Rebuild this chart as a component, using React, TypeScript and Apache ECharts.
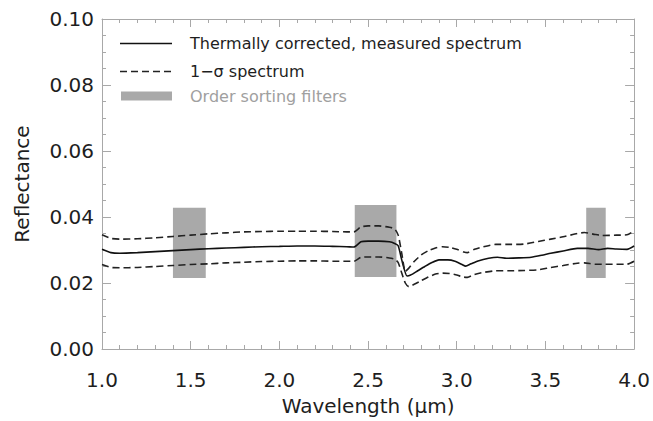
import React, { useEffect, useRef } from "react";
import * as echarts from "echarts";

// Measured spectrum
const measWave = [1.0, 1.05, 1.1, 1.2, 1.3, 1.4, 1.5, 1.6, 1.7, 1.8, 1.9, 2.0, 2.1, 2.2, 2.3, 2.38, 2.42, 2.46, 2.5, 2.56, 2.62, 2.65, 2.67, 2.69, 2.72, 2.74, 2.78, 2.82, 2.86, 2.9, 2.95, 2.99, 3.03, 3.05, 3.08, 3.12, 3.18, 3.23, 3.28, 3.35, 3.42, 3.48, 3.53, 3.6, 3.68, 3.74, 3.8, 3.85, 3.9, 3.96, 4.0];
const measRefl = [0.0302, 0.0292, 0.029, 0.0292, 0.0295, 0.0298, 0.0301, 0.0304, 0.0306, 0.0308, 0.031, 0.0311, 0.0312, 0.0312, 0.0311, 0.031, 0.0309, 0.0325, 0.0327, 0.0327, 0.0325, 0.032, 0.0313, 0.027, 0.0221, 0.0224, 0.0237, 0.025, 0.0262, 0.027, 0.027, 0.0266, 0.0256, 0.0251, 0.0258, 0.0267, 0.0275, 0.0278, 0.0275, 0.0276, 0.0278, 0.0284, 0.029, 0.0297, 0.0305, 0.0305, 0.0301, 0.0305, 0.0303, 0.0302, 0.0312];

// 1-sigma envelope
const sigmaWave = [1.0, 1.05, 1.1, 1.2, 1.3, 1.4, 1.5, 1.6, 1.7, 1.8, 1.9, 2.0, 2.1, 2.2, 2.3, 2.38, 2.42, 2.46, 2.5, 2.56, 2.62, 2.65, 2.67, 2.69, 2.71, 2.73, 2.76, 2.8, 2.84, 2.88, 2.92, 2.96, 3.0, 3.04, 3.06, 3.1, 3.15, 3.22, 3.3, 3.38, 3.46, 3.53, 3.6, 3.68, 3.72, 3.78, 3.82, 3.9, 3.96, 4.0];
const upperRefl = [0.0346, 0.0335, 0.0333, 0.0334, 0.0337, 0.0341, 0.0345, 0.0349, 0.0352, 0.0355, 0.0356, 0.0357, 0.0357, 0.0357, 0.0356, 0.0355, 0.0355, 0.037, 0.0373, 0.0373, 0.0369, 0.0364, 0.0345, 0.029, 0.0235, 0.0245, 0.0265, 0.0285, 0.0298, 0.0306, 0.031, 0.0308, 0.0302, 0.0294, 0.0292, 0.0302, 0.031, 0.0317, 0.0317, 0.0318, 0.0326, 0.0333, 0.034, 0.035, 0.0353, 0.0347, 0.0344, 0.0345, 0.0346, 0.0358];
const lowerRefl = [0.0256, 0.0247, 0.0246, 0.0247, 0.025, 0.0253, 0.0256, 0.0258, 0.0261, 0.0263, 0.0265, 0.0266, 0.0267, 0.0267, 0.0266, 0.0266, 0.0266, 0.0278, 0.0279, 0.0279, 0.0276, 0.0272, 0.0262, 0.023, 0.02, 0.0189, 0.0196, 0.0207, 0.0218, 0.0227, 0.023, 0.0229, 0.0224, 0.0218, 0.0217, 0.0226, 0.0232, 0.0237, 0.0237, 0.0238, 0.024, 0.0247, 0.0253, 0.026, 0.0261, 0.0257, 0.0257, 0.0257, 0.0257, 0.0266];

// Order sorting filters: [xStart, xEnd, yBottom, yTop]
const filterXStart = [1.4, 2.425, 3.73];
const filterXEnd = [1.585, 2.66, 3.84];
const filterYBottom = [0.0215, 0.0218, 0.0215];
const filterYTop = [0.0428, 0.0436, 0.0428];

const xTicks = { min: 1.0, max: 4.0, interval: 0.5 };
const yTicks = { min: 0.0, max: 0.1, interval: 0.02 };

const legendLabels = ["Thermally corrected, measured spectrum", "1\u2212\u03c3 spectrum", "Order sorting filters"];

const AXIS_GRAY = "#a8a8a8";
const FILTER_GRAY = "#a9a9a9";
const FONT = "DejaVu Sans";
const TEXT = "#1e1e1e";

export default function App() {
  const ref = useRef<HTMLDivElement>(null);
  useEffect(() => {
    if (!ref.current) return;
    const chart = echarts.init(ref.current, null, { renderer: "svg" });
    const pair = (xs: number[], ys: number[]) => xs.map((x, i) => [x, ys[i]]);
    const filterData = filterXStart.map((x, i) => [x, filterXEnd[i], filterYBottom[i], filterYTop[i]]);

    const xBase = {
      type: "value",
      min: xTicks.min,
      max: xTicks.max,
      interval: xTicks.interval,
      axisLine: { show: true, onZero: false, lineStyle: { color: AXIS_GRAY, width: 1 } },
      axisTick: { show: true, inside: true, length: 8, lineStyle: { color: AXIS_GRAY } },
      minorTick: { show: true, splitNumber: 5, length: 4, lineStyle: { color: AXIS_GRAY } },
      splitLine: { show: false },
    };
    const yBase = {
      type: "value",
      min: yTicks.min,
      max: yTicks.max,
      interval: yTicks.interval,
      axisLine: { show: true, onZero: false, lineStyle: { color: AXIS_GRAY, width: 1 } },
      axisTick: { show: true, inside: true, length: 9, lineStyle: { color: AXIS_GRAY } },
      minorTick: { show: true, splitNumber: 4, length: 4, lineStyle: { color: AXIS_GRAY } },
      splitLine: { show: false },
    };

    const lx0 = 120, lx1 = 172, ltx = 190;
    const ly = [43.5, 71.5, 96];

    chart.setOption({
      animation: false,
      backgroundColor: "#ffffff",
      grid: { left: 102, right: 18, top: 19, bottom: 67 },
      xAxis: [
        {
          ...xBase,
          position: "bottom",
          name: "Wavelength (\u03bcm)",
          nameLocation: "middle",
          nameGap: 47,
          nameTextStyle: { fontFamily: FONT, fontSize: 20, color: TEXT },
          axisLabel: { show: true, fontFamily: FONT, fontSize: 20, color: TEXT, margin: 21, formatter: (v: number) => v.toFixed(1) },
        },
        { ...xBase, position: "top", axisLabel: { show: false } },
      ],
      yAxis: [
        {
          ...yBase,
          position: "left",
          name: "Reflectance",
          nameLocation: "middle",
          nameGap: 70,
          nameTextStyle: { fontFamily: FONT, fontSize: 20, color: TEXT },
          axisLabel: { show: true, fontFamily: FONT, fontSize: 20, color: TEXT, margin: 8, formatter: (v: number) => v.toFixed(2) },
        },
        { ...yBase, position: "right", axisLabel: { show: false } },
      ],
      series: [
        {
          type: "custom",
          z: 1,
          data: filterData,
          renderItem: (params: any, api: any) => {
            const p0 = api.coord([api.value(0), api.value(3)]);
            const p1 = api.coord([api.value(1), api.value(2)]);
            return {
              type: "rect",
              shape: { x: p0[0], y: p0[1], width: p1[0] - p0[0], height: p1[1] - p0[1] },
              style: { fill: FILTER_GRAY },
            };
          },
        },
        {
          type: "line",
          z: 3,
          data: pair(measWave, measRefl),
          showSymbol: false,
          smooth: 0.2,
          lineStyle: { color: "#111", width: 1.6 },
        },
        {
          type: "line",
          z: 3,
          data: pair(sigmaWave, upperRefl),
          showSymbol: false,
          smooth: 0.2,
          lineStyle: { color: "#222", width: 1.6, type: [7, 4] },
        },
        {
          type: "line",
          z: 3,
          data: pair(sigmaWave, lowerRefl),
          showSymbol: false,
          smooth: 0.2,
          lineStyle: { color: "#222", width: 1.6, type: [7, 4] },
        },
      ],
      graphic: [
        { type: "line", shape: { x1: lx0, y1: ly[0], x2: lx1, y2: ly[0] }, style: { stroke: "#111", lineWidth: 1.6 } },
        { type: "line", shape: { x1: lx0, y1: ly[1], x2: lx1, y2: ly[1] }, style: { stroke: "#222", lineWidth: 1.6, lineDash: [7, 4] } },
        { type: "rect", shape: { x: lx0 + 1, y: ly[2] - 4.5, width: lx1 - lx0 - 1, height: 9 }, style: { fill: FILTER_GRAY } },
        { type: "text", x: ltx, y: ly[0], style: { text: legendLabels[0], fill: TEXT, fontFamily: FONT, fontSize: 16, verticalAlign: "middle" } },
        { type: "text", x: ltx, y: ly[1], style: { text: legendLabels[1], fill: TEXT, fontFamily: FONT, fontSize: 16, verticalAlign: "middle" } },
        { type: "text", x: ltx, y: ly[2], style: { text: legendLabels[2], fill: "#a0a0a0", fontFamily: FONT, fontSize: 16, verticalAlign: "middle" } },
      ],
    });
    return () => chart.dispose();
  }, []);
  return <div ref={ref} style={{ width: 653, height: 421, position: "absolute", left: 0, top: 0 }} />;
}
